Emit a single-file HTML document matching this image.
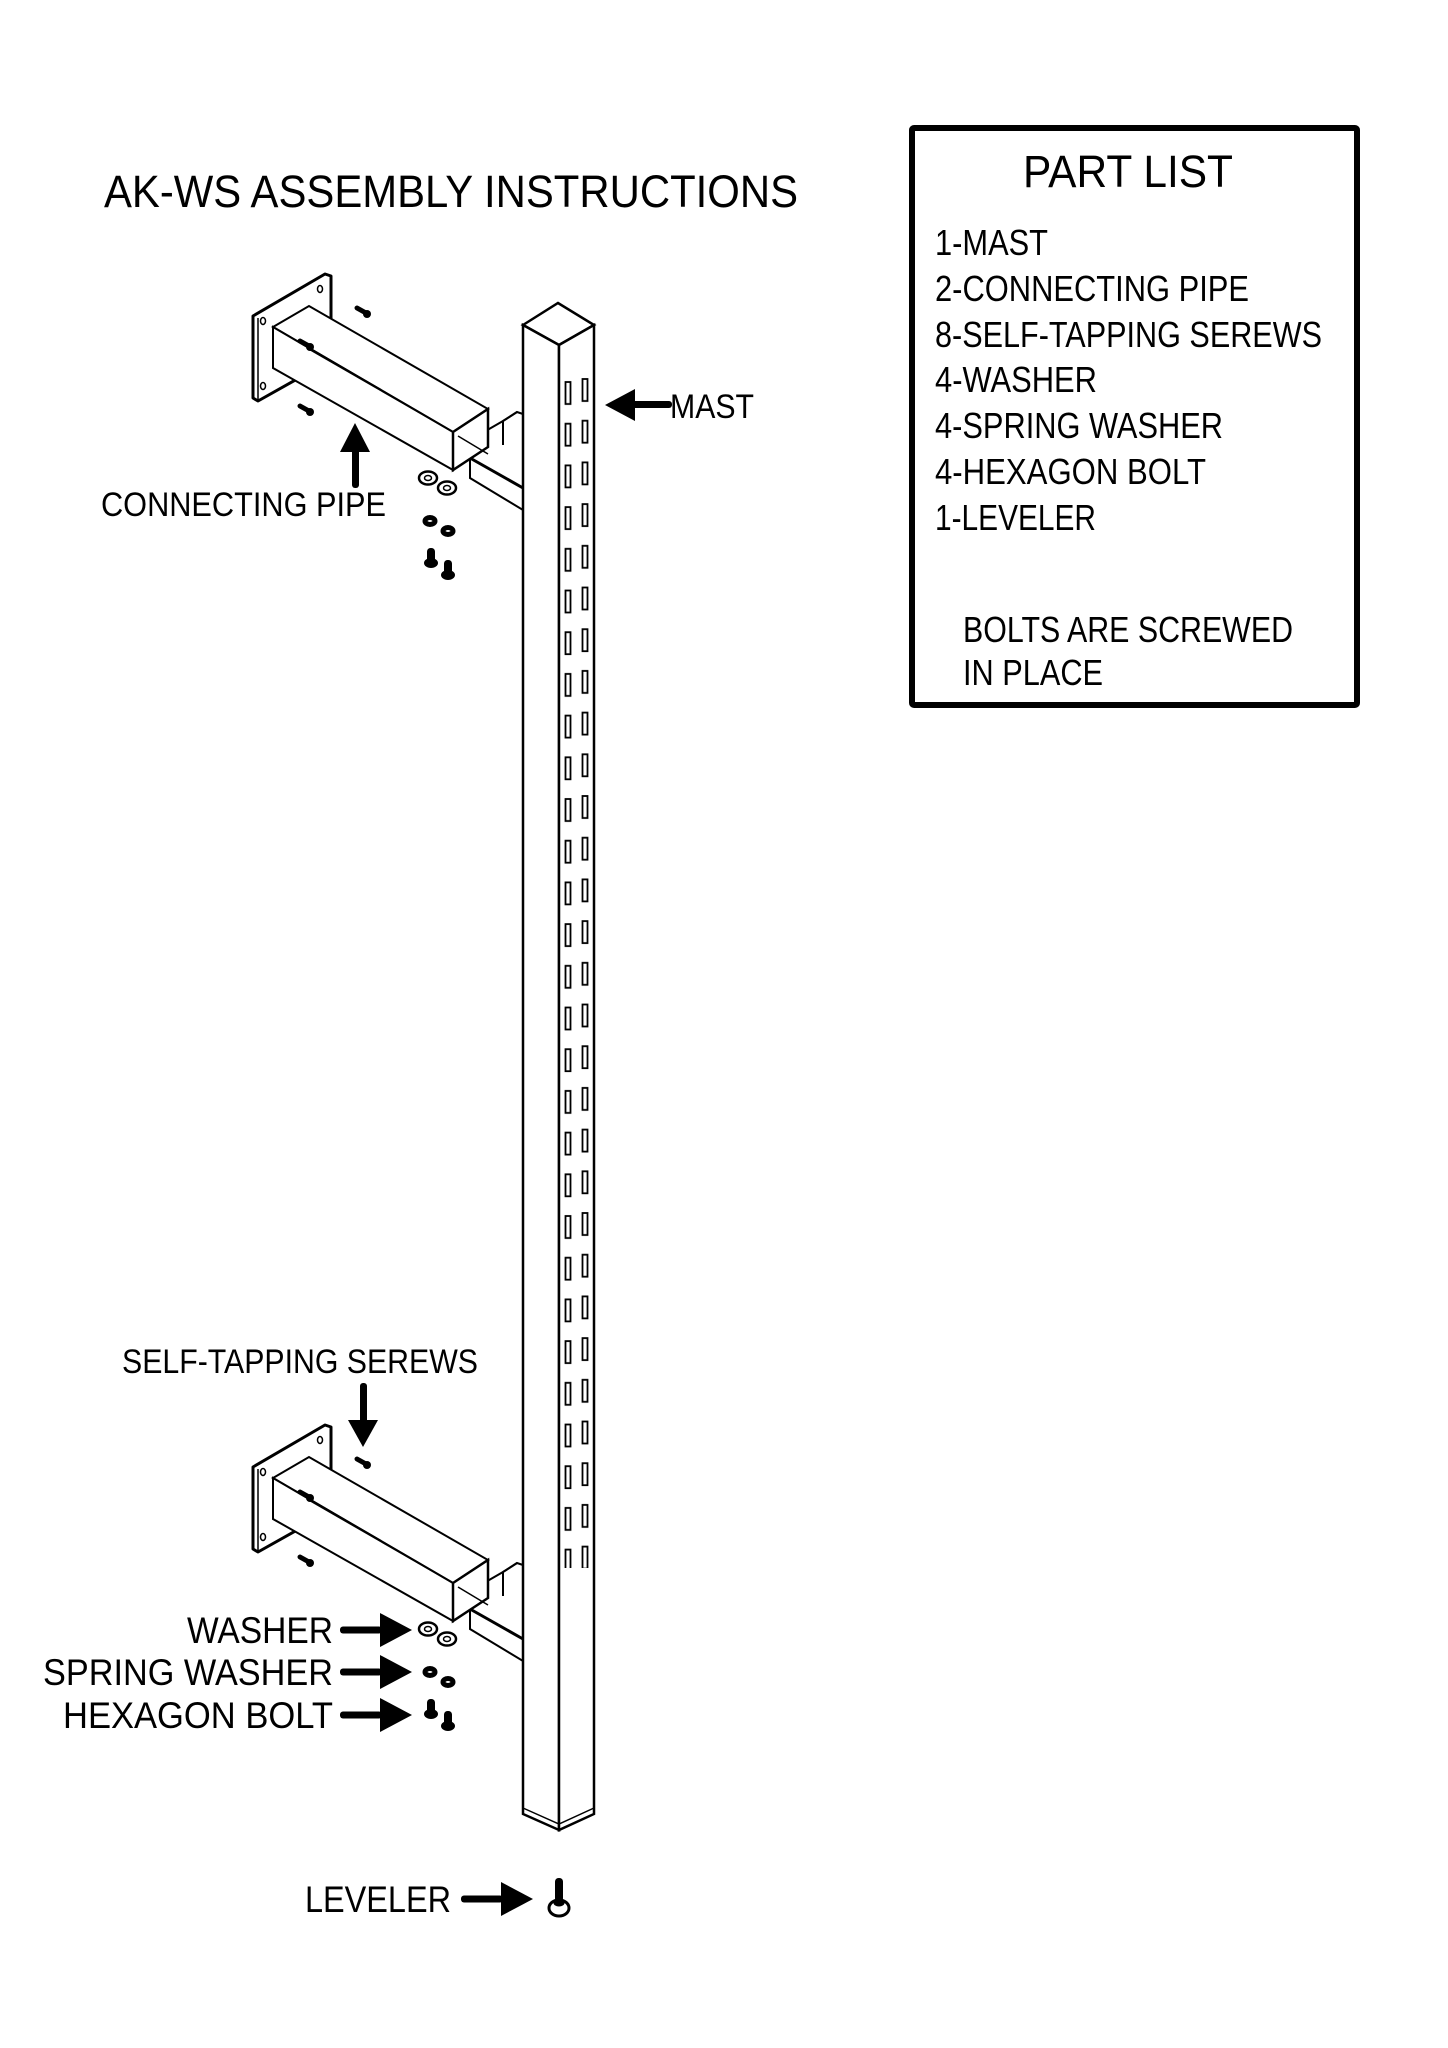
<!DOCTYPE html>
<html><head><meta charset="utf-8"><style>
html,body{margin:0;padding:0;background:#fff;}
svg{display:block;}
text{font-family:"Liberation Sans","DejaVu Sans",sans-serif;fill:#000;}
</style></head><body>
<svg width="1448" height="2048" viewBox="0 0 1448 2048" xmlns="http://www.w3.org/2000/svg">
<defs>
<pattern id="slots" patternUnits="userSpaceOnUse" x="560" y="378" width="40" height="41.7">
<rect x="5.5" y="4" width="5" height="22" fill="#fff" stroke="#000" stroke-width="1.8"/>
<rect x="22.5" y="1" width="5" height="22" fill="#fff" stroke="#000" stroke-width="1.8"/>
</pattern>
<g id="bracket">
<polygon points="253,316 325,274 331,276 331,360 258,401 253,398" fill="#fff" stroke="#000" stroke-width="3" stroke-linejoin="round"/>
<line x1="258" y1="318" x2="258" y2="400" stroke="#000" stroke-width="1.5"/>
<ellipse cx="263" cy="321" rx="2.5" ry="3.5" fill="none" stroke="#000" stroke-width="1.5"/>
<ellipse cx="320" cy="289" rx="2.5" ry="3.5" fill="none" stroke="#000" stroke-width="1.5"/>
<ellipse cx="263" cy="386" rx="2.5" ry="3.5" fill="none" stroke="#000" stroke-width="1.5"/>
<polygon points="470,440 503,421 517,412 523,414 523,510 470,478" fill="#fff" stroke="#000" stroke-width="2"/>
<polyline points="503,445 503,421 517,412" fill="none" stroke="#000" stroke-width="2"/>
<line x1="470" y1="458" x2="523" y2="488" stroke="#000" stroke-width="3"/>
<polygon points="273,327 309,306 488,409 453,432" fill="#fff" stroke="#000" stroke-width="2"/>
<polygon points="273,327 453,432 453,470 273,368" fill="#fff" stroke="#000" stroke-width="2"/>
<polygon points="453,432 488,409 488,447 453,470" fill="#fff" stroke="#000" stroke-width="2.5"/>
<polyline points="458,436 488,454" fill="none" stroke="#000" stroke-width="1.5"/>
<line x1="307" y1="348" x2="453" y2="432" stroke="#000" stroke-width="1.5"/>
<g stroke="#000" stroke-linecap="round">
<line x1="357" y1="308" x2="366" y2="313" stroke-width="5"/><circle cx="367" cy="314" r="4" fill="#000" stroke="none"/>
<line x1="300" y1="341" x2="309" y2="346" stroke-width="5"/><circle cx="310" cy="347" r="4" fill="#000" stroke="none"/>
<line x1="300" y1="406" x2="309" y2="411" stroke-width="5"/><circle cx="310" cy="412" r="4" fill="#000" stroke="none"/>
</g>
<g fill="#fff" stroke="#000">
<ellipse cx="428" cy="478" rx="9" ry="6.5" stroke-width="2.5"/><ellipse cx="428" cy="478" rx="3.5" ry="2.5" stroke-width="1.5"/>
<ellipse cx="447" cy="488" rx="9" ry="6.5" stroke-width="2.5"/><ellipse cx="447" cy="488" rx="3.5" ry="2.5" stroke-width="1.5"/>
<ellipse cx="430" cy="521" rx="5" ry="3.5" stroke-width="5"/>
<ellipse cx="448" cy="531" rx="5" ry="3.5" stroke-width="5"/>
</g>
<g fill="#000">
<ellipse cx="431" cy="563" rx="7" ry="5"/><rect x="427" y="548" width="8" height="15" rx="3.5"/>
<ellipse cx="448" cy="575" rx="7" ry="5"/><rect x="444" y="560" width="8" height="15" rx="3.5"/>
</g>
</g>
<g id="arrR"><rect x="0" y="-3.5" width="42" height="7" rx="3"/><polygon points="40,-17 72,0 40,17"/></g>
</defs>

<text x="104" y="207" font-size="45" textLength="694" lengthAdjust="spacingAndGlyphs">AK-WS ASSEMBLY INSTRUCTIONS</text>

<rect x="912" y="128" width="445" height="577" fill="none" stroke="#000" stroke-width="6" rx="2"/>
<text x="1023" y="187" font-size="45" textLength="210" lengthAdjust="spacingAndGlyphs">PART LIST</text>
<g font-size="36">
<text x="935" y="255" textLength="113" lengthAdjust="spacingAndGlyphs">1-MAST</text>
<text x="935" y="301" textLength="314" lengthAdjust="spacingAndGlyphs">2-CONNECTING PIPE</text>
<text x="935" y="347" textLength="387" lengthAdjust="spacingAndGlyphs">8-SELF-TAPPING SEREWS</text>
<text x="935" y="392" textLength="162" lengthAdjust="spacingAndGlyphs">4-WASHER</text>
<text x="935" y="438" textLength="288" lengthAdjust="spacingAndGlyphs">4-SPRING WASHER</text>
<text x="935" y="484" textLength="271" lengthAdjust="spacingAndGlyphs">4-HEXAGON BOLT</text>
<text x="935" y="530" textLength="161" lengthAdjust="spacingAndGlyphs">1-LEVELER</text>
<text x="963" y="642" textLength="330" lengthAdjust="spacingAndGlyphs">BOLTS ARE SCREWED</text>
<text x="963" y="685" textLength="140" lengthAdjust="spacingAndGlyphs">IN PLACE</text>
</g>

<use href="#bracket"/>
<use href="#bracket" transform="translate(0,1151)"/>

<polygon points="523,325 558,303 594,325 559,345" fill="#fff" stroke="#000" stroke-width="2.5"/>
<polygon points="523,325 559,345 559,1830 523,1814" fill="#fff" stroke="#000" stroke-width="2.5"/>
<polygon points="559,345 594,325 594,1814 559,1830" fill="#fff" stroke="#000" stroke-width="2.5"/>
<polyline points="523,1808 559,1824 594,1808" fill="none" stroke="#000" stroke-width="1.5"/>
<rect x="560" y="378" width="34" height="1190" fill="url(#slots)"/>

<g font-size="34">
<text x="670" y="418" textLength="84" lengthAdjust="spacingAndGlyphs">MAST</text>
<text x="101" y="516" textLength="285" lengthAdjust="spacingAndGlyphs">CONNECTING PIPE</text>
<text x="122" y="1373" textLength="356" lengthAdjust="spacingAndGlyphs">SELF-TAPPING SEREWS</text>
</g>
<g font-size="37">
<text x="187" y="1643" textLength="146" lengthAdjust="spacingAndGlyphs">WASHER</text>
<text x="43" y="1685" textLength="290" lengthAdjust="spacingAndGlyphs">SPRING WASHER</text>
<text x="63" y="1728" textLength="270" lengthAdjust="spacingAndGlyphs">HEXAGON BOLT</text>
<text x="305" y="1912" textLength="146" lengthAdjust="spacingAndGlyphs">LEVELER</text>
</g>

<g fill="#000">
<rect x="630" y="401" width="42" height="7" rx="3"/><polygon points="605,405 635,389 635,421"/>
<rect x="352" y="445" width="7" height="43" rx="3"/><polygon points="355,423 340,452 370,452"/>
<rect x="360" y="1383" width="7" height="40" rx="3"/><polygon points="348,1420 378,1420 363,1447"/>
<use href="#arrR" transform="translate(340,1630)"/>
<use href="#arrR" transform="translate(340,1672)"/>
<use href="#arrR" transform="translate(340,1715)"/>
<use href="#arrR" transform="translate(461,1899)"/>
</g>

<g>
<rect x="555" y="1878" width="8" height="24" rx="3.5" fill="#000"/>
<ellipse cx="559" cy="1908" rx="10" ry="8" fill="#fff" stroke="#000" stroke-width="3"/>
<ellipse cx="559" cy="1903" rx="5" ry="3" fill="#000" stroke="#000" stroke-width="1"/>
</g>
</svg>
</body></html>
